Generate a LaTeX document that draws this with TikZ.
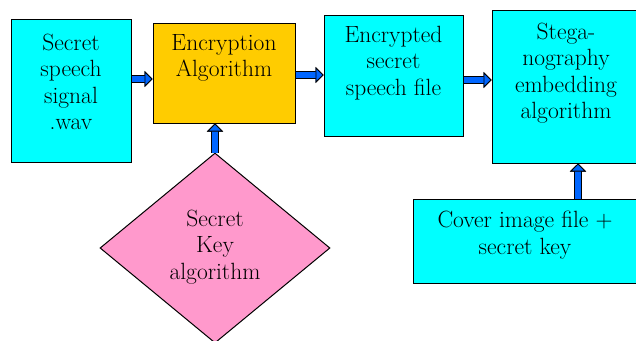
\documentclass[tikz,border=0pt]{standalone}
\usetikzlibrary{positioning,arrows.meta,shapes.geometric}
\definecolor{boxcyan}{RGB}{0,255,255}
\definecolor{boxgold}{RGB}{255,204,0}
\definecolor{keypink}{RGB}{255,153,204}
\definecolor{arrowblue}{RGB}{0,102,255}
\tikzset{
  block/.style={draw=black, line width=1pt, inner sep=0pt},
  txt/.style={align=center, font=\fontsize{23.5}{26.5}\selectfont, inner sep=0pt},
  fatarrow/.style={-{Triangle[length=8pt,width=16pt,fill=arrowblue,color=black,line width=0.8pt]},
    line width=5.5pt, draw=arrowblue, preaction={draw=black,line width=7.5pt}}
}
\begin{document}
\begin{tikzpicture}[x=1pt,y=-1pt]
\useasboundingbox (0,0) rectangle (636,340);
% boxes
\node[block,fill=boxcyan,minimum width=120,minimum height=143] (speech) at (71,90.5) {};
\node[block,fill=boxgold,minimum width=142,minimum height=100] (enc) at (224,73) {};
\node[block,fill=boxcyan,minimum width=139,minimum height=121] (crypt) at (393.5,75.5) {};
\node[block,fill=boxcyan,minimum width=148,minimum height=153] (stega) at (566,86.5) {};
\node[block,fill=boxcyan,minimum width=227,minimum height=84] (cover) at (526.5,241) {};
\node[block,diamond,fill=keypink,minimum width=230,minimum height=190] (key) at (215,248) {};
% texts
\node[txt] (speechT) at (71,82) {Secret\\speech\\signal\\.wav};
\node[txt] (encT) at (224,58) {Encryption\\Algorithm};
\node[txt] (cryptT) at (393.5,63) {Encrypted\\secret\\speech file};
\node[txt] (stegaT) at (566,73) {Stega-\\nography\\embedding\\algorithm};
\node[txt] (coverT) at (525,235) {Cover image file +\\secret key};
\node[txt] (keyT) at (215,247) {Secret\\Key\\algorithm};
% arrows
\draw[fatarrow] ([yshift=11.5pt]speech.east) -- ([yshift=-6pt]enc.west);
\draw[fatarrow] ([yshift=-2pt]enc.east) -- ([yshift=0.5pt]crypt.west);
\draw[fatarrow] ([yshift=-4.5pt]crypt.east) -- ([yshift=6.5pt]stega.west);
\draw[fatarrow] (key.north) -- (key.north |- enc.south);
\draw[fatarrow] ([xshift=51.5pt]cover.north) coordinate (coverUp) -- (coverUp |- stega.south);
\end{tikzpicture}
\end{document}
